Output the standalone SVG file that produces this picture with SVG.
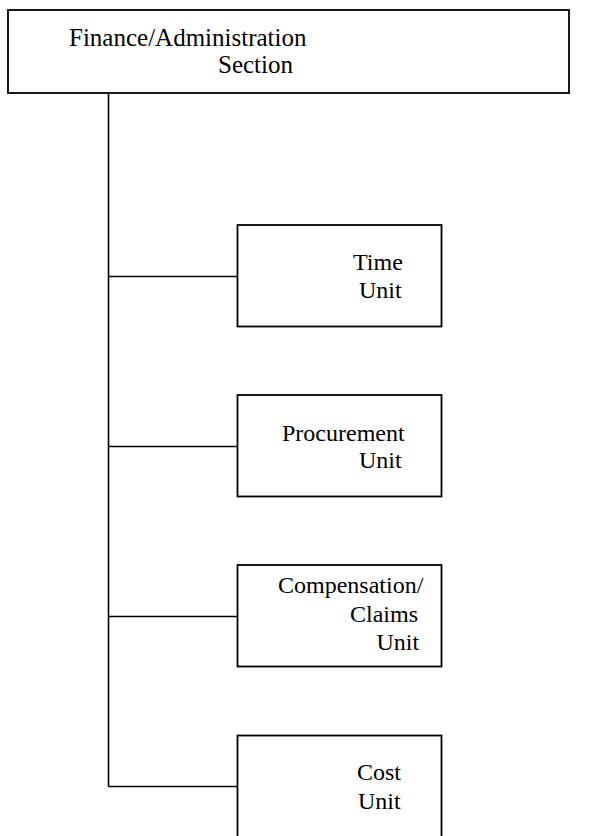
<svg xmlns="http://www.w3.org/2000/svg" width="595" height="836" viewBox="0 0 595 836">
  <style>
    .box { fill: #ffffff; stroke: #000000; stroke-width: 1.8; }
    .link { fill: none; stroke: #000000; stroke-width: 1.6; }
    .lbl { font-family: "Liberation Serif", "Times New Roman", serif; font-size: 24px; fill: #000000; }
    .head { font-size: 25px; }
  </style>
  <rect width="595" height="836" fill="#ffffff"/>

  <!-- connectors: trunk from the section box and one branch per unit -->
  <g id="connectors">
    <line class="link" x1="108.5" y1="93" x2="108.5" y2="786.5"/>
    <line class="link" x1="108.5" y1="276.5" x2="237" y2="276.5"/>
    <line class="link" x1="108.5" y1="446.5" x2="237" y2="446.5"/>
    <line class="link" x1="108.5" y1="616.5" x2="237" y2="616.5"/>
    <line class="link" x1="108.5" y1="786.5" x2="237" y2="786.5"/>
  </g>

  <g id="section">
    <rect class="box" x="8" y="10" width="561" height="83"/>
    <text class="lbl head" x="69" y="46">Finance/Administration</text>
    <text class="lbl head" x="218" y="73">Section</text>
  </g>

  <g id="time-unit">
    <rect class="box" x="237.5" y="225" width="204" height="101.5"/>
    <text class="lbl" x="353" y="270">Time</text>
    <text class="lbl" x="359" y="298">Unit</text>
  </g>

  <g id="procurement-unit">
    <rect class="box" x="237.5" y="395" width="204" height="101.5"/>
    <text class="lbl" x="282" y="441">Procurement</text>
    <text class="lbl" x="359" y="468">Unit</text>
  </g>

  <g id="compensation-claims-unit">
    <rect class="box" x="237.5" y="565" width="204" height="101.5"/>
    <text class="lbl" x="278" y="593">Compensation/</text>
    <text class="lbl" x="350" y="621.5">Claims</text>
    <text class="lbl" x="376.5" y="650">Unit</text>
  </g>

  <g id="cost-unit">
    <rect class="box" x="237.5" y="735.5" width="204" height="120"/>
    <text class="lbl" x="357" y="780">Cost</text>
    <text class="lbl" x="358" y="809">Unit</text>
  </g>
</svg>
